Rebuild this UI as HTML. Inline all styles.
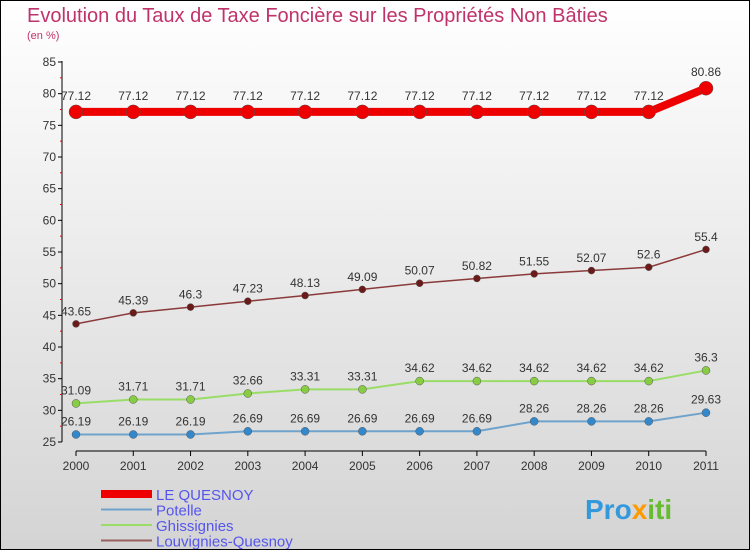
<!DOCTYPE html>
<html><head><meta charset="utf-8"><style>
body{margin:0;}
#c{width:750px;height:550px;position:relative;box-sizing:border-box;border:1px solid #000;background:linear-gradient(#fff,#d4d4d4);font-family:"Liberation Sans",sans-serif;overflow:hidden}
</style></head><body>
<div id="c">
<svg id="s" width="748" height="548" style="position:absolute;left:0;top:0" font-family="Liberation Sans, sans-serif">
<text x="26" y="21" font-size="20" fill="#c0336a" font-weight="300">Evolution du Taux de Taxe Foncière sur les Propriétés Non Bâties</text>
<text x="26" y="38" font-size="11" fill="#c0336a">(en %)</text>
<line x1="61" y1="60" x2="61" y2="441" stroke="#000"/>
<line x1="75" y1="450" x2="705" y2="450" stroke="#000"/>
<g id="g"></g>
<text x="584" y="518" font-size="28" font-weight="bold" fill="#3399dd">Pro<tspan fill="#ff9900">x</tspan><tspan fill="#66bb33">iti</tspan></text>
</svg>
</div>
<script>
const years=[2000,2001,2002,2003,2004,2005,2006,2007,2008,2009,2010,2011];
const yTicks=[25,30,35,40,45,50,55,60,65,70,75,80,85];
const leQuesnoy=[77.12,77.12,77.12,77.12,77.12,77.12,77.12,77.12,77.12,77.12,77.12,80.86];
const potelle=[26.19,26.19,26.19,26.69,26.69,26.69,26.69,26.69,28.26,28.26,28.26,29.63];
const ghissignies=[31.09,31.71,31.71,32.66,33.31,33.31,34.62,34.62,34.62,34.62,34.62,36.3];
const louvignies=[43.65,45.39,46.3,47.23,48.13,49.09,50.07,50.82,51.55,52.07,52.6,55.4];
const seriesNames=["LE QUESNOY","Potelle","Ghissignies","Louvignies-Quesnoy"];
const NS="http://www.w3.org/2000/svg";
const g=document.getElementById('g');
function X(i){return 75+i*(630/(years.length-1));}
function Y(v){return 441-(v-25)*(380/60);}
function el(t,a){const e=document.createElementNS(NS,t);for(const k in a)e.setAttribute(k,a[k]);g.appendChild(e);return e;}
yTicks.forEach(v=>{
 const t=el('line',{x1:57,x2:61,y1:Y(v),y2:Y(v),stroke:'#000'});
 
 
 const m=el('line',{x1:59,x2:61,y1:Y(v+2.5),y2:Y(v+2.5),stroke:'#e00'});
 if(v===85)m.remove();
 const l=el('text',{x:55,y:Y(v)+4,'font-size':12,'text-anchor':'end',fill:'#333'});
 l.textContent=v;
 
 
});
years.forEach((y,i)=>{
 el('line',{x1:X(i),x2:X(i),y1:450,y2:455,stroke:'#000'});
 const l=el('text',{x:X(i),y:469,'font-size':12,'text-anchor':'middle',fill:'#333'});
 l.textContent=y;
 
 
});
const series=[
 {d:potelle,c:'#6fa3cc',dot:'#3388cc',w:2,r:4,n:'potelle'},
 {d:ghissignies,c:'#99dd66',dot:'#88cc44',w:2,r:4,n:'ghissignies'},
 {d:louvignies,c:'#8b3a3a',dot:'#6b1a1a',w:1.5,r:3.5,n:'louvignies-quesnoy'},
 {d:leQuesnoy,c:'#ee0000',dot:'#ee0000',w:8,r:7,n:'le-quesnoy'}
];
series.forEach(s=>{
 const p=el('polyline',{points:s.d.map((v,i)=>X(i)+','+Y(v)).join(' '),fill:'none',stroke:s.c,'stroke-width':s.w});
 
 
 s.d.forEach((v,i)=>{
  const c=el('circle',{cx:X(i),cy:Y(v),r:s.r,fill:s.dot,stroke:'#555','stroke-width':0.5});
  
  
  const t=el('text',{x:X(i),y:Y(v)-(s.r+5),'font-size':12,'text-anchor':'middle',fill:'#333'});
  t.textContent=v;
  
  
 });
});
const leg=[['#ee0000',8],['#6fa3cc',2],['#99dd66',2],['#9a6060',2]];
leg.forEach((l,i)=>{
 const y=493+i*15.5;
 el('line',{x1:100,x2:151,y1:y,y2:y,stroke:l[0],'stroke-width':l[1]});
 const t=el('text',{x:155,y:y+6,'font-size':15,fill:'#5555ee'});
 t.textContent=seriesNames[i];
 
 
});
</script>
</body></html>
